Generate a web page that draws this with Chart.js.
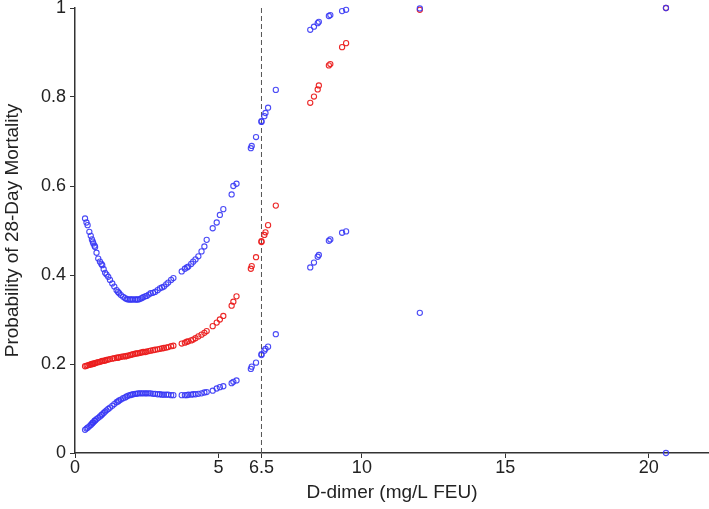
<!DOCTYPE html>
<html>
<head>
<meta charset="utf-8">
<script src="https://cdn.jsdelivr.net/npm/chart.js@4/dist/chart.umd.min.js"></script>
<style>
html,body{margin:0;padding:0;background:#ffffff;}
#wrap{width:709px;height:509px;position:relative;}
</style>
</head>
<body>
<div id="wrap"><canvas id="c" width="709" height="509"></canvas></div>
<script>
// D-dimer values (mg/L FEU)
const dimer = [0.35,0.40,0.44,0.50,0.55,0.59,0.62,0.64,0.68,0.70,0.75,0.81,0.87,0.92,0.95,1.00,1.05,1.10,1.16,1.22,1.30,1.37,1.45,1.50,1.54,1.60,1.68,1.75,1.80,1.86,1.92,1.97,2.03,2.10,2.15,2.20,2.26,2.32,2.38,2.45,2.50,2.57,2.64,2.72,2.79,2.88,2.96,3.03,3.10,3.18,3.25,3.35,3.43,3.72,3.83,3.90,3.95,4.05,4.12,4.20,4.30,4.41,4.51,4.59,4.80,4.94,5.05,5.17,5.46,5.52,5.63,
  6.13,6.16,6.31,6.50,6.50,6.60,6.64,6.73,7.00,8.20,8.33,8.46,8.50,8.85,8.90,9.31,9.45,12.02,20.6];
// Upper 95% CI
const upperCI = [0.527,0.518,0.512,0.497,0.488,0.480,0.475,0.471,0.466,0.463,0.450,0.437,0.430,0.425,0.422,0.413,0.405,0.401,0.396,0.389,0.381,0.374,0.366,0.362,0.359,0.355,0.351,0.348,0.346,0.345,0.345,0.345,0.345,0.345,0.345,0.345,0.346,0.348,0.350,0.352,0.353,0.356,0.359,0.360,0.362,0.366,0.370,0.372,0.374,0.379,0.383,0.389,0.393,0.408,0.414,0.417,0.419,0.425,0.430,0.435,0.442,0.453,0.464,0.479,0.505,0.518,0.535,0.548,0.581,0.600,0.605,
  0.685,0.690,0.710,0.744,0.746,0.757,0.764,0.776,0.816,0.951,0.958,0.966,0.969,0.982,0.984,0.993,0.996,0.999,1.0];
// Estimated probability
const estimate = [0.195,0.196,0.197,0.198,0.199,0.200,0.200,0.201,0.201,0.202,0.203,0.204,0.205,0.206,0.207,0.207,0.208,0.209,0.210,0.211,0.212,0.213,0.214,0.214,0.215,0.216,0.217,0.217,0.218,0.219,0.220,0.221,0.222,0.223,0.224,0.224,0.225,0.226,0.227,0.227,0.228,0.229,0.230,0.231,0.232,0.233,0.234,0.235,0.236,0.237,0.238,0.240,0.241,0.246,0.248,0.250,0.251,0.253,0.255,0.258,0.262,0.266,0.270,0.274,0.285,0.293,0.300,0.308,0.331,0.340,0.352,
  0.414,0.420,0.440,0.474,0.476,0.490,0.496,0.512,0.556,0.787,0.801,0.817,0.826,0.871,0.874,0.912,0.921,0.996,1.0];
// Lower 95% CI
const lowerCI = [0.052,0.055,0.057,0.060,0.063,0.066,0.068,0.069,0.072,0.073,0.076,0.079,0.082,0.085,0.087,0.090,0.093,0.096,0.099,0.102,0.106,0.110,0.114,0.116,0.118,0.120,0.123,0.125,0.127,0.129,0.130,0.131,0.132,0.133,0.133,0.134,0.134,0.134,0.134,0.134,0.134,0.134,0.134,0.133,0.133,0.132,0.132,0.131,0.131,0.131,0.131,0.130,0.130,0.130,0.130,0.130,0.131,0.131,0.132,0.132,0.133,0.134,0.136,0.137,0.140,0.145,0.148,0.150,0.157,0.160,0.163,
  0.189,0.194,0.203,0.220,0.222,0.230,0.234,0.239,0.267,0.417,0.428,0.441,0.445,0.477,0.480,0.495,0.498,0.315,0.0];
const cutoff = [6.5];
const xTicks = [0, 5, 6.5, 10, 15, 20];
const yTicks = [0, 0.2, 0.4, 0.6, 0.8, 1];

const pts = arr => dimer.map((x, i) => ({x: x, y: arr[i]}));
const BLUE = 'rgba(55,55,245,0.9)';
const RED = 'rgba(235,30,30,0.95)';
const ptStyle = c => ({type:'scatter', borderColor:c, backgroundColor:'rgba(0,0,0,0)', pointRadius:2.6, pointBorderWidth:1.1, clip:false, showLine:false});

new Chart(document.getElementById('c'), {
  data: {
    datasets: [
      Object.assign({label:'Upper CI', data: pts(upperCI)}, ptStyle(BLUE)),
      Object.assign({label:'Lower CI', data: pts(lowerCI)}, ptStyle(BLUE)),
      Object.assign({label:'Estimate', data: pts(estimate)}, ptStyle(RED)),
      {type:'line', label:'cutoff', data:[{x:cutoff[0], y:yTicks[0]},{x:cutoff[0], y:yTicks[yTicks.length-1]}],
       borderColor:'#555', borderWidth:1, borderDash:[5,3], pointRadius:0, fill:false}
    ]
  },
  options: {
    responsive:false,
    animation:false,
    devicePixelRatio:1,
    layout:{autoPadding:false, padding:{top:8, right:0, bottom:0, left:0}},
    plugins:{legend:{display:false}, tooltip:{enabled:false}},
    scales:{
      x:{
        type:'linear', min:0, max:22.1,
        afterBuildTicks: s => { s.ticks = xTicks.map(v => ({value:v})); },
        afterFit: s => { s.height = 56; s.paddingLeft = 0; s.paddingRight = 0; },
        ticks:{callback: v => String(v), color:'#222', font:{family:'"Liberation Sans", Arial, sans-serif', size:18, lineHeight:1.0}, padding:1, maxRotation:0, autoSkip:false},
        grid:{drawOnChartArea:false, tickLength:5, color:'#333', tickColor:'#333'},
        border:{color:'#333', width:1.5},
        title:{display:true, text:'D-dimer (mg/L FEU)', color:'#222', font:{family:'"Liberation Sans", Arial, sans-serif', size:19}, padding:{top:0, bottom:5}}
      },
      y:{
        type:'linear', min:0, max:1,
        afterBuildTicks: s => { s.ticks = yTicks.map(v => ({value:v})); },
        afterFit: s => { s.width = 75; s.paddingTop = 0; s.paddingBottom = 0; },
        ticks:{callback: v => String(v), color:'#222', font:{family:'"Liberation Sans", Arial, sans-serif', size:18}, padding:4},
        grid:{drawOnChartArea:false, tickLength:5, color:'#333', tickColor:'#333'},
        border:{color:'#333', width:1.5},
        title:{display:true, text:'Probability of 28-Day Mortality', color:'#222', font:{family:'"Liberation Sans", Arial, sans-serif', size:19}, padding:{top:1, bottom:0}}
      }
    }
  }
});
</script>
</body>
</html>
